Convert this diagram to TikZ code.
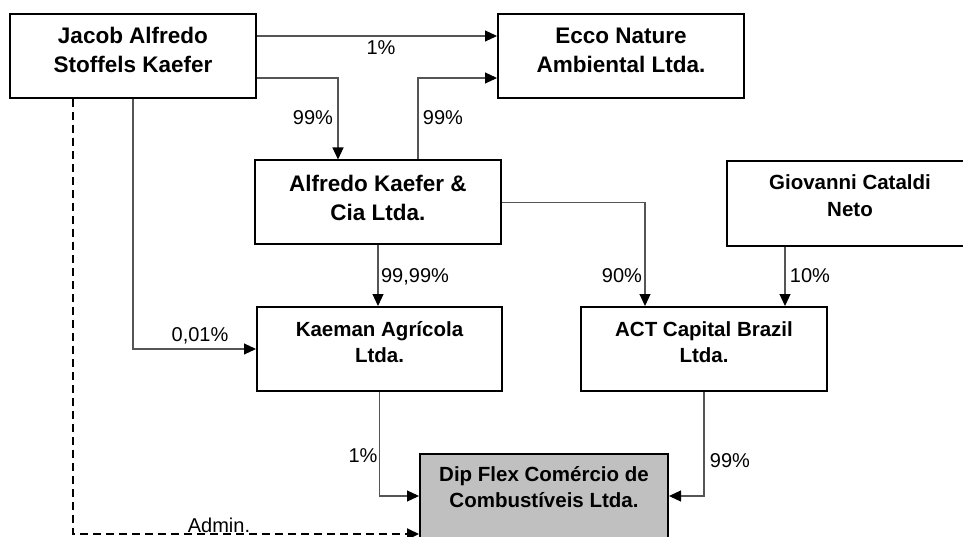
\documentclass[tikz,border=0pt]{standalone}
\usepackage{fontspec}
\setmainfont{Liberation Sans}
\usetikzlibrary{arrows.meta}
\newcommand{\twoln}[2]{\begin{tabular}[t]{@{}c@{}}#1\\#2\end{tabular}}
\definecolor{linegray}{HTML}{555555}
\definecolor{dipgray}{HTML}{C0C0C0}
\tikzset{
  box/.style={draw=black, fill=white, line width=2pt, minimum width=246pt, minimum height=84pt, inner sep=0pt},
  bigtxt/.style={anchor=base, inner sep=0pt, font=\fontsize{22.5}{28.5}\selectfont\bfseries},
  smalltxt/.style={anchor=base, inner sep=0pt, font=\fontsize{20.5}{26.5}\selectfont\bfseries},
  pct/.style={anchor=base, inner sep=0pt, font=\fontsize{20}{24}\selectfont},
  link/.style={draw=linegray, line width=1.1pt, -{Triangle[length=12pt,width=11pt,color=black]}},
  adminlink/.style={draw=black, line width=2pt, dash pattern=on 8pt off 5pt, -{Triangle[length=12pt,width=11pt,color=black]}}
}
\begin{document}
\begin{tikzpicture}[x=1pt, y=-1pt]
\useasboundingbox (0,0) rectangle (963,537);
\clip (0,0) rectangle (963,537);
\fill[white] (0,0) rectangle (963,537);
% boxes
\node[box] (jacob) at (133,56) {};
\node[box] (ecco) at (621,56) {};
\node[box] (alfredo) at (378,202.5) {};
\node[box, minimum height=85pt] (giov) at (850,203.5) {};
\node[box, minimum width=245pt] (kaeman) at (379.5,349) {};
\node[box] (act) at (704,349) {};
\node[box, fill=dipgray, minimum width=248pt] (dip) at (544,496) {};
% texts
\node[bigtxt] (jacobT) at (133,44) {\twoln{Jacob Alfredo}{Stoffels Kaefer}};
\node[bigtxt] (eccoT) at (621,44) {\twoln{Ecco Nature}{Ambiental Ltda.}};
\node[bigtxt] (alfredoT) at (378,192) {\twoln{Alfredo Kaefer \&}{Cia Ltda.}};
\node[smalltxt] (giovT) at (850,190) {\twoln{Giovanni Cataldi}{Neto}};
\node[smalltxt] (kaemanT) at (379.5,336) {\twoln{Kaeman Agrícola}{Ltda.}};
\node[smalltxt] (actT) at (704,336) {\twoln{ACT Capital Brazil}{Ltda.}};
\node[smalltxt] (dipT) at (544,481) {\twoln{Dip Flex Comércio de}{Combustíveis Ltda.}};
% connectors
\draw[link] ([yshift=20pt]jacob.east) -- ([yshift=20pt]ecco.west);
\draw[link] ([yshift=-22pt]jacob.east) -| ([xshift=-40pt]alfredo.north);
\draw[link] ([xshift=40pt]alfredo.north) |- ([yshift=-22pt]ecco.west);
\draw[link] (jacob.south) |- (kaeman.west);
\draw[link] (alfredo.south) -- (alfredo.south |- kaeman.north);
\draw[link] (alfredo.east) -| ([xshift=-59pt]act.north);
\draw[link] ([xshift=-65pt]giov.south) -- ([xshift=81pt]act.north);
\draw[link] (kaeman.south) |- (dip.west);
\draw[link] (act.south) |- (dip.east);
\draw[adminlink] ([xshift=-60pt]jacob.south) |- ([yshift=-38pt]dip.west);
% labels
\node[pct] (l1) at (381,55) {1\%};
\node[pct] (l2) at (313,125) {99\%};
\node[pct] (l3) at (443,125) {99\%};
\node[pct] (l4) at (200,341) {0,01\%};
\node[pct] (l5) at (415,282) {99,99\%};
\node[pct] (l6) at (622,282) {90\%};
\node[pct] (l7) at (810,282) {10\%};
\node[pct] (l8) at (363,462) {1\%};
\node[pct] (l9) at (730,467) {99\%};
\node[pct] (l10) at (219,532) {Admin.};
\end{tikzpicture}
\end{document}
